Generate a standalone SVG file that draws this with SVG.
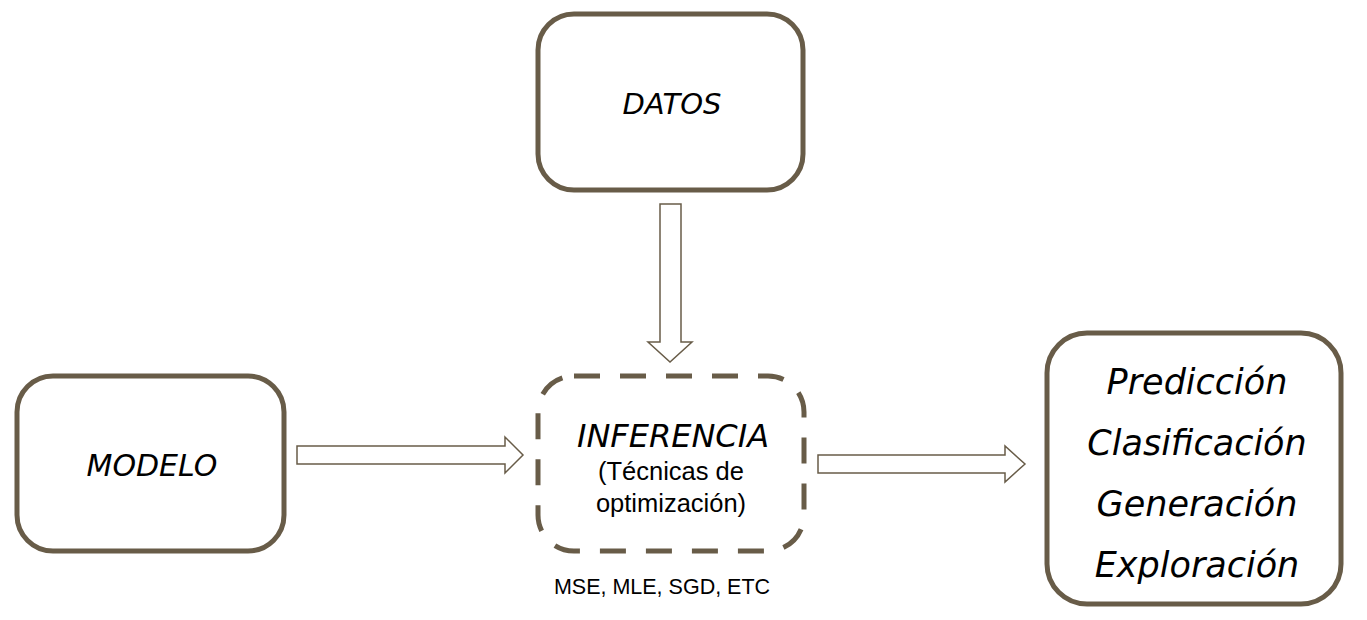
<svg xmlns="http://www.w3.org/2000/svg" width="1367" height="620" viewBox="0 0 1367 620">
<style>
.box{fill:#fff;stroke:#685c48;stroke-width:5}
.dash{fill:#fff;stroke:#685c48;stroke-width:5;stroke-dasharray:26 20}
.arr{fill:#fff;stroke:#685c48;stroke-width:1.5;stroke-linejoin:miter}
.hand{font-family:"DejaVu Sans","Noto Sans",sans-serif;font-style:italic;font-weight:300;fill:#000;text-anchor:middle}
.sans{font-family:"Liberation Sans",Arial,sans-serif;fill:#000;text-anchor:middle}
</style>
<rect width="1367" height="620" fill="#fff"/>
<g id="connectors">
<polygon class="arr" points="297,446 505,446 505,437 523,455 505,473 505,464 297,464"/>
<polygon class="arr" points="660,204 681,204 681,342 692,342 670,362 648,342 660,342"/>
<polygon class="arr" points="818,455 1005,455 1005,446 1025,464 1005,482 1005,473 818,473"/>
</g>
<g id="datos">
<rect class="box" x="538" y="14" width="265" height="176" rx="36"/>
<text class="hand" x="672" y="114" font-size="29">DATOS</text>
</g>
<g id="modelo">
<rect class="box" x="17" y="376" width="267" height="175" rx="36"/>
<text class="hand" x="152" y="476" font-size="30">MODELO</text>
</g>
<g id="inferencia">
<rect class="dash" x="538" y="376" width="266" height="175" rx="36"/>
<text class="hand" x="673" y="447" font-size="32">INFERENCIA</text>
<text class="sans" x="671" y="480" font-size="25.5">(Técnicas de</text>
<text class="sans" x="671" y="512" font-size="25.5">optimización)</text>
<text class="sans" x="662" y="594" font-size="21.5">MSE, MLE, SGD, ETC</text>
</g>
<g id="resultados">
<rect class="box" x="1047" y="333" width="294" height="271" rx="40"/>
<text class="hand" x="1197" y="394" font-size="35">Predicción</text>
<text class="hand" x="1197" y="455" font-size="35">Clasificación</text>
<text class="hand" x="1197" y="516" font-size="35">Generación</text>
<text class="hand" x="1197" y="577" font-size="35">Exploración</text>
</g>
</svg>
